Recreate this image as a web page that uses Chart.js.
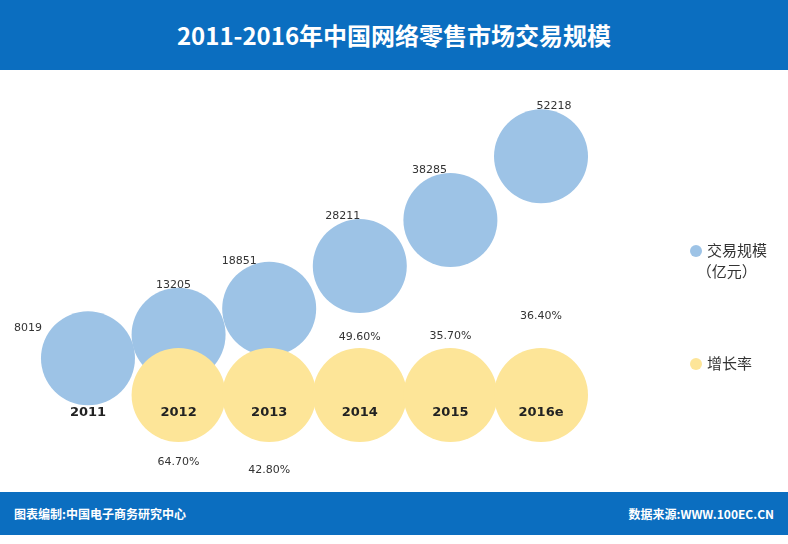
<!DOCTYPE html>
<html>
<head>
<meta charset="utf-8">
<script src="https://cdn.jsdelivr.net/npm/chart.js@4.4.0/dist/chart.umd.min.js"></script>
<style>
  body { margin: 0; width: 788px; height: 544px; position: relative; background: #fff; font-family: "Noto Sans CJK SC", "Noto Sans", sans-serif; overflow: hidden; }
  #wrap { position: absolute; left: -47px; top: -47px; width: 882px; height: 638px; }
  .bar { position: absolute; left: 0; width: 788px; background: #0b6ec0; color: #fff; }
  #head { top: 0; height: 70px; line-height: 70px; text-align: center; font-size: 24px; font-weight: bold; }
  #foot { top: 492px; height: 43px; line-height: 43px; font-size: 12px; font-weight: bold; }
  #foot .l { position: absolute; left: 14px; }
  #foot .r { position: absolute; right: 14px; }
  .lg { position: absolute; left: 690px; font-size: 15px; color: #333; }
  .dot { display: inline-block; width: 12px; height: 12px; border-radius: 50%; margin-right: 5px; vertical-align: -1px; }
</style>
</head>
<body>
<div id="wrap"><canvas id="c" width="882" height="638"></canvas></div>
<div class="bar" id="head">2011-2016年中国网络零售市场交易规模</div>
<div class="bar" id="foot"><span class="l">图表编制:中国电子商务研究中心</span><span class="r">数据来源:WWW.100EC.CN</span></div>
<div class="lg" style="top:239px"><span class="dot" style="background:#9dc3e6"></span>交易规模<br>&nbsp;&nbsp;（亿元）</div>
<div class="lg" style="top:352px"><span class="dot" style="background:#fde598"></span>增长率</div>
<script>
// 数据
const years = ['2011', '2012', '2013', '2014', '2015', '2016e'];
const scale = [8019, 13205, 18851, 28211, 38285, 52218];
const growth = [null, '64.70%', '42.80%', '49.60%', '35.70%', '36.40%'];

// 增长率标签位置 (相对黄色圆心)
const growthOffset = [null, 67, 75, -58, -59, -79];

const labels = {
  id: 'labels',
  afterDatasetsDraw(chart) {
    const ctx = chart.ctx;
    const blue = chart.getDatasetMeta(1).data;
    const yellow = chart.getDatasetMeta(0).data;
    ctx.save();
    ctx.textAlign = 'center';
    ctx.textBaseline = 'middle';
    ctx.font = '11px "DejaVu Sans", sans-serif';
    ctx.fillStyle = '#333';
    blue.forEach((p, i) => {
      if (i === 0) ctx.fillText(scale[i], p.x - 60, p.y - 30);
      else ctx.fillText(scale[i], p.x - 5 - (i === 2 ? 25 : i === 3 ? 12 : i === 4 ? 16 : i === 5 ? -18 : 0), p.y - 50 + (i === 2 ? 2 : 0));
    });
    yellow.forEach((p, i) => {
      if (growth[i]) ctx.fillText(growth[i], p.x, p.y + growthOffset[i]);
    });
    ctx.font = 'bold 13px "DejaVu Sans", sans-serif';
    ctx.fillStyle = '#222';
    years.forEach((y, i) => {
      const p = yellow[i];
      ctx.fillText(y, p.x, p.y + 18);
    });
    ctx.restore();
  }
};

new Chart(document.getElementById('c'), {
  type: 'bubble',
  data: {
    datasets: [
      {
        label: '增长率',
        data: years.map((y, i) => ({ x: i, y: 0, r: i === 0 ? 0 : 47 })),
        backgroundColor: '#fde598',
        borderWidth: 0
      },
      {
        label: '交易规模（亿元）',
        data: scale.map((v, i) => ({ x: i, y: v, r: 47 })),
        backgroundColor: '#9dc3e6',
        borderWidth: 0
      }
    ]
  },
  options: {
    responsive: false,
    animation: false,
    layout: { padding: 0 },
    plugins: { legend: { display: false }, tooltip: { enabled: false } },
    scales: {
      x: { type: 'linear', display: false, min: -0.971, max: 7.726 },
      y: { display: false, min: -32604, max: 86433 }
    }
  },
  plugins: [labels]
});
</script>
</body>
</html>
